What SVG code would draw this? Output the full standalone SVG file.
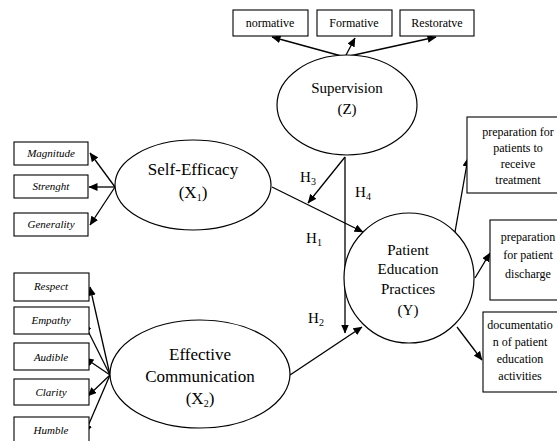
<svg xmlns="http://www.w3.org/2000/svg" width="557" height="441" viewBox="0 0 557 441" font-family="Liberation Serif, Tinos, Times New Roman, DejaVu Serif, serif">
<defs>
<marker id="ah" markerWidth="9" markerHeight="8" refX="8.5" refY="4" orient="auto" markerUnits="userSpaceOnUse">
<path d="M0,0 L9,4 L0,8 Z" fill="#000"/>
</marker>
<style>
text{font-family:"Liberation Serif",Tinos,"Times New Roman","DejaVu Serif",serif;fill:#000;text-anchor:middle}
.box{fill:#fff;stroke:#000;stroke-width:1.1}
.ell{fill:#fff;stroke:#000;stroke-width:1.2}
.c{stroke:#000;stroke-width:1.3;fill:none;marker-end:url(#ah)}
.it{font-style:italic;font-size:11px}
.sm{font-size:12px}
.lg{font-size:17px}
.md{font-size:15px}
.h{font-size:15px}
.sub{font-size:10px}
</style>
</defs>
<rect width="557" height="441" fill="#fff"/>
<g id="connectors">
<line class="c" x1="345" y1="57" x2="272" y2="37"/>
<line class="c" x1="345" y1="57" x2="355" y2="38"/>
<line class="c" x1="345" y1="57" x2="436" y2="37"/>
<line class="c" x1="115" y1="187" x2="90" y2="153"/>
<line class="c" x1="115" y1="187" x2="89" y2="187"/>
<line class="c" x1="115" y1="187" x2="90" y2="225"/>
<line class="c" x1="110" y1="375" x2="90" y2="287"/>
<line class="c" x1="110" y1="375" x2="84" y2="323"/>
<line class="c" x1="110" y1="375" x2="85" y2="358"/>
<line class="c" x1="110" y1="375" x2="88" y2="396"/>
<line class="c" x1="110" y1="375" x2="85" y2="433"/>
<line class="c" x1="272" y1="187" x2="363" y2="232"/>
<line class="c" x1="345" y1="157" x2="308" y2="203"/>
<line class="c" x1="345" y1="157" x2="345" y2="333"/>
<line class="c" x1="290" y1="375" x2="362" y2="327"/>
<line class="c" x1="455" y1="232" x2="468" y2="158"/>
<line class="c" x1="475" y1="278" x2="490" y2="253"/>
<line class="c" x1="457" y1="327" x2="482" y2="360"/>
</g>
<g id="normative"><rect class="box" x="233" y="10" width="75" height="26"/><text class="sm" x="270" y="27">normative</text></g>
<g id="formative"><rect class="box" x="317" y="10" width="75" height="26"/><text class="sm" x="354" y="27">Formative</text></g>
<g id="restoratve"><rect class="box" x="400" y="10" width="74" height="26"/><text class="sm" x="437" y="27">Restoratve</text></g>
<g id="supervision"><ellipse class="ell" cx="347" cy="105" rx="70" ry="50"/><text class="md" x="347" y="93">Supervision</text><text class="md" x="347" y="114">(Z)</text></g>
<g id="magnitude"><rect class="box" x="14" y="142" width="74" height="23"/><text class="it" x="51" y="157">Magnitude</text></g>
<g id="strenght"><rect class="box" x="14" y="175" width="74" height="23"/><text class="it" x="51" y="190">Strenght</text></g>
<g id="generality"><rect class="box" x="14" y="213" width="74" height="23"/><text class="it" x="51" y="228">Generality</text></g>
<g id="self-efficacy"><ellipse class="ell" cx="193" cy="185" rx="78" ry="45"/><text class="lg" x="193" y="175">Self-Efficacy</text><text class="lg" x="193" y="198">(X<tspan class="sub" dy="3">1</tspan><tspan dy="-3">)</tspan></text></g>
<g id="respect"><rect class="box" x="14" y="273" width="75" height="28"/><text class="it" x="51" y="290">Respect</text></g>
<g id="empathy"><rect class="box" x="14" y="307" width="75" height="27"/><text class="it" x="51" y="324">Empathy</text></g>
<g id="audible"><rect class="box" x="14" y="343" width="75" height="27"/><text class="it" x="51" y="361">Audible</text></g>
<g id="clarity"><rect class="box" x="14" y="379" width="75" height="26"/><text class="it" x="51" y="396">Clarity</text></g>
<g id="humble"><rect class="box" x="14" y="417" width="75" height="28"/><text class="it" x="51" y="434">Humble</text></g>
<g id="effective-communication"><ellipse class="ell" cx="200" cy="374" rx="90" ry="54"/><text class="lg" x="200" y="360">Effective</text><text class="lg" x="200" y="382">Communication</text><text class="lg" x="200" y="404">(X<tspan class="sub" dy="3">2</tspan><tspan dy="-3">)</tspan></text></g>
<g id="patient-education-practices"><ellipse class="ell" cx="409" cy="278" rx="65" ry="65"/><text class="md" x="408" y="255">Patient</text><text class="md" x="408" y="274">Education</text><text class="md" x="408" y="294">Practices</text><text class="md" x="408" y="315">(Y)</text></g>
<g id="prep-treatment"><rect class="box" x="467" y="117" width="95" height="76"/><text class="sm" x="518" y="136">preparation for</text><text class="sm" x="518" y="152">patients to</text><text class="sm" x="518" y="168">receive</text><text class="sm" x="518" y="184">treatment</text></g>
<g id="prep-discharge"><rect class="box" x="490" y="220" width="75" height="80"/><text class="sm" x="528" y="241">preparation</text><text class="sm" x="528" y="259">for patient</text><text class="sm" x="528" y="278">discharge</text></g>
<g id="documentation"><rect class="box" x="483" y="312" width="80" height="80"/><text class="sm" x="520" y="329">documentatio</text><text class="sm" x="520" y="346">n of patient</text><text class="sm" x="520" y="363">education</text><text class="sm" x="520" y="380">activities</text></g>
<g id="labels">
<text class="h" x="308" y="182">H<tspan class="sub" dy="3">3</tspan></text>
<text class="h" x="363" y="197">H<tspan class="sub" dy="3">4</tspan></text>
<text class="h" x="314" y="243">H<tspan class="sub" dy="3">1</tspan></text>
<text class="h" x="316" y="323">H<tspan class="sub" dy="3">2</tspan></text>
</g>
</svg>
